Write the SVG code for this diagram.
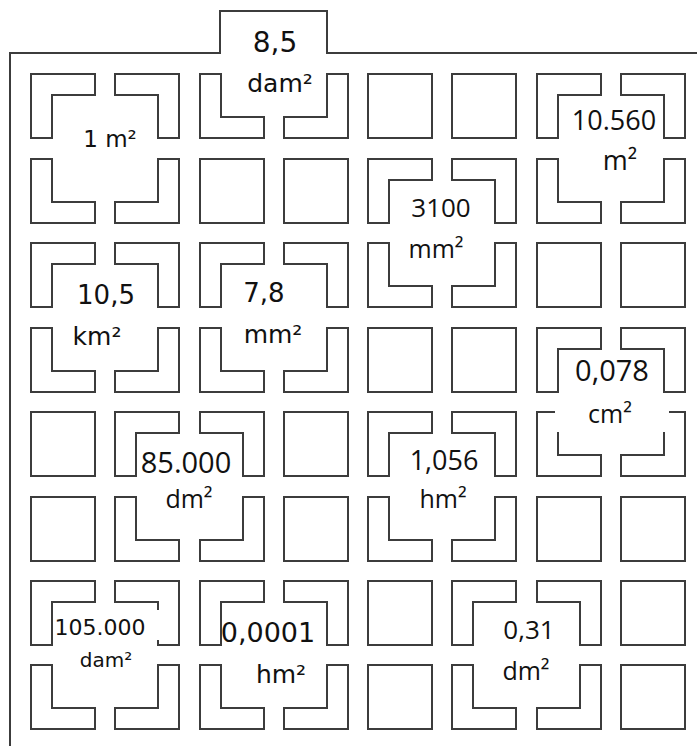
<svg xmlns="http://www.w3.org/2000/svg" xmlns:xlink="http://www.w3.org/1999/xlink" width="697" height="746" viewBox="0 0 697 746">
<style>
.sh{fill:#fff;stroke:#3c3c3c;stroke-width:2;stroke-linejoin:miter}
.fr{fill:none;stroke:#3c3c3c;stroke-width:2}
.t{fill:#111;text-anchor:middle}
.c{font-family:"DejaVu Sans","Liberation Sans",sans-serif}
.o{font-family:"Open Sans","Liberation Sans",sans-serif}
.bg{fill:#fff;stroke:none}
</style>
<defs>
<path id="sq" class="sh" d="M0 0H64V64H0Z"/>
<path id="a" class="sh" d="M0 0H64V21H21V64H0Z"/>
<path id="b" class="sh" d="M0 0H64V64H43V21H0Z"/>
<path id="c" class="sh" d="M0 0H21V43H64V64H0Z"/>
<path id="d" class="sh" d="M43 0H64V64H0V43H43Z"/>
</defs>
<rect width="697" height="746" fill="#fff"/>
<path id="frame" class="fr" d="M10 746V53H220V11H327V53H697"/>
<g id="plain">
<use href="#sq" x="368" y="74"/><use href="#sq" x="452" y="74"/>
<use href="#sq" x="200" y="159"/><use href="#sq" x="284" y="159"/>
<use href="#sq" x="537" y="243"/><use href="#sq" x="621" y="243"/>
<use href="#sq" x="368" y="328"/><use href="#sq" x="452" y="328"/>
<use href="#sq" x="31" y="412"/><use href="#sq" x="284" y="412"/>
<use href="#sq" x="31" y="497"/><use href="#sq" x="284" y="497"/><use href="#sq" x="537" y="497"/><use href="#sq" x="621" y="497"/>
<use href="#sq" x="368" y="581"/><use href="#sq" x="621" y="581"/>
<use href="#sq" x="368" y="665"/><use href="#sq" x="621" y="665"/>
</g>
<g id="b-1m2">
<use href="#a" x="31" y="74"/><use href="#b" x="115" y="74"/><use href="#c" x="31" y="159"/><use href="#d" x="115" y="159"/>
<text class="t c" x="110" y="147" font-size="23">1 m²</text>
</g>
<g id="b-85dam2">
<use href="#c" x="200" y="74"/><use href="#d" x="284" y="74"/>
<text class="t c" x="275" y="52" font-size="28">8,5</text>
<text class="t c" x="280" y="92" font-size="25">dam²</text>
</g>
<g id="b-10560m2">
<use href="#a" x="537" y="74"/><use href="#b" x="621" y="74"/><use href="#c" x="537" y="159"/><use href="#d" x="621" y="159"/>
<text class="t o" x="614" y="130" font-size="27">10.560</text>
<text class="t o" x="620" y="170" font-size="27">m²</text>
</g>
<g id="b-3100mm2">
<use href="#a" x="368" y="159"/><use href="#b" x="452" y="159"/><use href="#c" x="368" y="243"/><use href="#d" x="452" y="243"/>
<text class="t o" x="441" y="217" font-size="26">3100</text>
<text class="t o" x="436" y="258" font-size="25">mm²</text>
</g>
<g id="b-105km2">
<use href="#a" x="31" y="243"/><use href="#b" x="115" y="243"/><use href="#c" x="31" y="328"/><use href="#d" x="115" y="328"/>
<text class="t c" x="106" y="304" font-size="26">10,5</text>
<text class="t c" x="97" y="345" font-size="25">km²</text>
</g>
<g id="b-78mm2">
<use href="#a" x="200" y="243"/><use href="#b" x="284" y="243"/><use href="#c" x="200" y="328"/><use href="#d" x="284" y="328"/>
<text class="t c" x="264" y="302" font-size="26">7,8</text>
<text class="t c" x="273" y="343" font-size="25">mm²</text>
</g>
<g id="b-0078cm2">
<use href="#a" x="537" y="328"/><use href="#b" x="621" y="328"/><use href="#c" x="537" y="412"/><use href="#d" x="621" y="412"/>
<rect class="bg" x="555" y="394" width="114" height="38"/>
<text class="t o" x="612" y="381" font-size="29">0,078</text>
<text class="t o" x="610" y="423" font-size="25">cm²</text>
</g>
<g id="b-85000dm2">
<use href="#a" x="115" y="412"/><use href="#b" x="200" y="412"/><use href="#c" x="115" y="497"/><use href="#d" x="200" y="497"/>
<text class="t o" x="186" y="473" font-size="29">85.000</text>
<text class="t o" x="189" y="508" font-size="25">dm²</text>
</g>
<g id="b-1056hm2">
<use href="#a" x="368" y="412"/><use href="#b" x="452" y="412"/><use href="#c" x="368" y="497"/><use href="#d" x="452" y="497"/>
<text class="t o" x="444" y="470" font-size="27">1,056</text>
<text class="t o" x="443" y="508" font-size="25">hm²</text>
</g>
<g id="b-105000dam2">
<use href="#a" x="31" y="581"/><use href="#b" x="115" y="581"/><use href="#c" x="31" y="665"/><use href="#d" x="115" y="665"/>
<rect class="bg" x="54" y="610" width="105" height="30"/>
<text class="t c" x="100" y="635" font-size="22">105.000</text>
<text class="t c" x="106" y="667" font-size="20">dam²</text>
</g>
<g id="b-00001hm2">
<use href="#a" x="200" y="581"/><use href="#b" x="284" y="581"/><use href="#c" x="200" y="665"/><use href="#d" x="284" y="665"/>
<text class="t c" x="268" y="642" font-size="27">0,0001</text>
<text class="t c" x="281" y="683" font-size="25">hm²</text>
</g>
<g id="b-031dm2">
<use href="#a" x="452" y="581"/><use href="#b" x="537" y="581"/><use href="#c" x="452" y="665"/><use href="#d" x="537" y="665"/>
<text class="t o" x="529" y="639" font-size="26">0,31</text>
<text class="t o" x="526" y="680" font-size="25">dm²</text>
</g>
</svg>
